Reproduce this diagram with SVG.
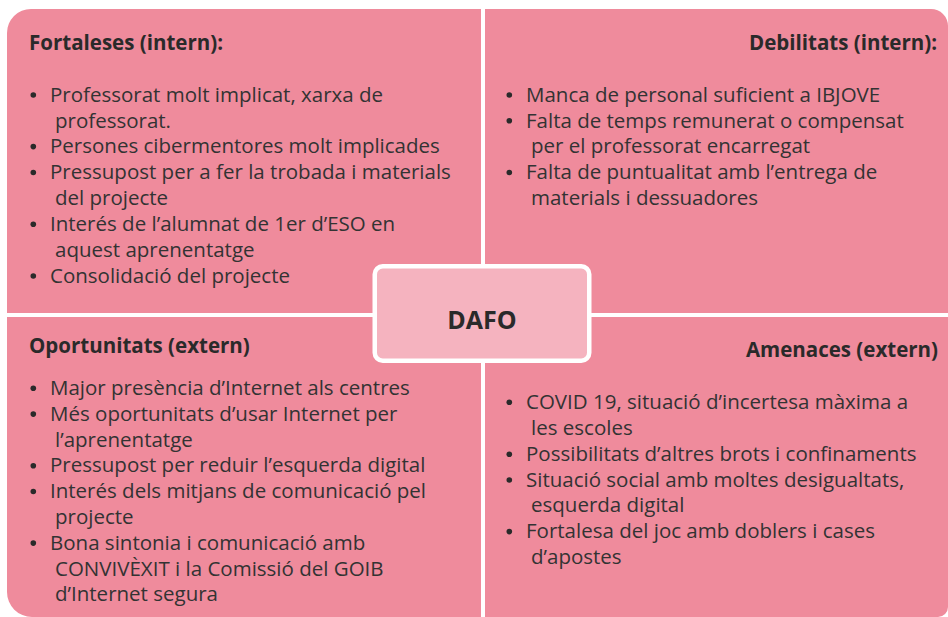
<svg xmlns="http://www.w3.org/2000/svg" width="948" height="617" viewBox="0 0 948 617">
<style>
.quad{fill:#EF8B9C}
.title{font-family:"Open Sans","Liberation Sans",sans-serif;font-weight:bold;font-size:20.5px;fill:#2a2a2a}
.body{font-family:"Open Sans","Liberation Sans",sans-serif;font-size:20.5px;fill:#333333}
.bul{fill:#2a2a2a}
.center{fill:#F5B3BF;stroke:#ffffff;stroke-width:4.5}
.ctext{font-family:"Open Sans","Liberation Sans",sans-serif;font-weight:bold;font-size:25px;fill:#2a2a2a}
</style>
<rect width="948" height="617" fill="#ffffff"/>
<g id="fortaleses">
<path class="quad" d="M31,9 H481 V313 H7 V33 A24,24 0 0 1 31,9 Z"/>
<text class="title" x="29" y="50">Fortaleses (intern):</text>
<g class="bul"><circle cx="33.3" cy="95" r="2.8"/><circle cx="33.3" cy="146.6" r="2.8"/><circle cx="33.3" cy="172.5" r="2.8"/><circle cx="33.3" cy="224.2" r="2.8"/><circle cx="33.3" cy="276" r="2.8"/></g>
<text class="body"><tspan x="50" y="101.7">Professorat molt implicat, xarxa de</tspan><tspan x="55" y="127.5">professorat.</tspan><tspan x="50" y="153.3">Persones cibermentores molt implicades</tspan><tspan x="50" y="179.3">Pressupost per a fer la trobada i materials</tspan><tspan x="55" y="205">del projecte</tspan><tspan x="50" y="231">Interés de l’alumnat de 1er d’ESO en</tspan><tspan x="55" y="256.7">aquest aprenentatge</tspan><tspan x="50" y="282.7">Consolidació del projecte</tspan></text>
</g>
<g id="debilitats">
<path class="quad" d="M485,9 H931 A17,17 0 0 1 948,26 V313 H485 Z"/>
<text class="title" x="937" y="50" text-anchor="end">Debilitats (intern):</text>
<g class="bul"><circle cx="509.3" cy="95" r="2.8"/><circle cx="509.3" cy="120.8" r="2.8"/><circle cx="509.3" cy="172.5" r="2.8"/></g>
<text class="body"><tspan x="526" y="101.7">Manca de personal suficient a IBJOVE</tspan><tspan x="526" y="127.5">Falta de temps remunerat o compensat</tspan><tspan x="531" y="153.3">per el professorat encarregat</tspan><tspan x="526" y="179.3">Falta de puntualitat amb l’entrega de</tspan><tspan x="531" y="205">materials i dessuadores</tspan></text>
</g>
<g id="oportunitats">
<path class="quad" d="M7,317 H481 V617 H32 A25,25 0 0 1 7,592 Z"/>
<text class="title" x="29" y="353.3">Oportunitats (extern)</text>
<g class="bul"><circle cx="33.3" cy="388.3" r="2.8"/><circle cx="33.3" cy="414.1" r="2.8"/><circle cx="33.3" cy="465.7" r="2.8"/><circle cx="33.3" cy="491.5" r="2.8"/><circle cx="33.3" cy="543.1" r="2.8"/></g>
<text class="body"><tspan x="50" y="395">Major presència d’Internet als centres</tspan><tspan x="50" y="420.8">Més oportunitats d’usar Internet per</tspan><tspan x="55" y="446.6">l’aprenentatge</tspan><tspan x="50" y="472.4">Pressupost per reduir l’esquerda digital</tspan><tspan x="50" y="498.2">Interés dels mitjans de comunicació pel</tspan><tspan x="55" y="524">projecte</tspan><tspan x="50" y="549.8">Bona sintonia i comunicació amb</tspan><tspan x="55" y="575.6">CONVIVÈXIT i la Comissió del GOIB</tspan><tspan x="55" y="601.4">d’Internet segura</tspan></text>
</g>
<g id="amenaces">
<path class="quad" d="M485,317 H948 V607 A10,10 0 0 1 938,617 H485 Z"/>
<text class="title" x="938" y="357.3" text-anchor="end">Amenaces (extern)</text>
<g class="bul"><circle cx="509.3" cy="402.3" r="2.8"/><circle cx="509.3" cy="454.3" r="2.8"/><circle cx="509.3" cy="480" r="2.8"/><circle cx="509.3" cy="531.6" r="2.8"/></g>
<text class="body"><tspan x="526" y="409">COVID 19, situació d’incertesa màxima a</tspan><tspan x="531" y="435">les escoles</tspan><tspan x="526" y="461">Possibilitats d’altres brots i confinaments</tspan><tspan x="526" y="486.7">Situació social amb moltes desigualtats,</tspan><tspan x="531" y="512.3">esquerda digital</tspan><tspan x="526" y="538.3">Fortalesa del joc amb doblers i cases</tspan><tspan x="531" y="564">d’apostes</tspan></text>
</g>
<g id="dafo">
<rect class="center" x="374.75" y="266.25" width="214.5" height="94.5" rx="8"/>
<text class="ctext" x="482" y="328.5" text-anchor="middle">DAFO</text>
</g>
</svg>
